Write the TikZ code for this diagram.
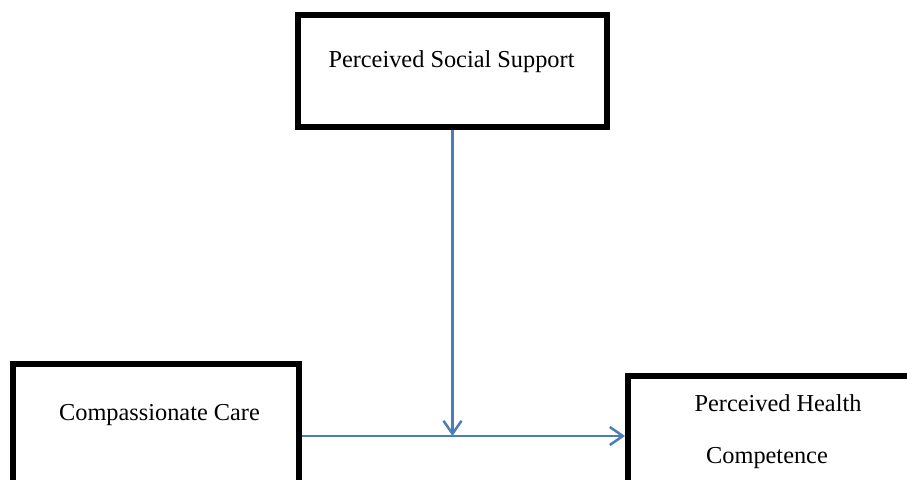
\documentclass[tikz,border=0pt]{standalone}
\usepackage{fontspec}
\setmainfont{Liberation Serif}
\usetikzlibrary{calc,arrows.meta}
\definecolor{lineblue}{RGB}{74,126,187}
\tikzstyle{cadre} = [rectangle, draw=black, line width=0.12cm, inner sep=0pt]
\tikzstyle{texte} = [anchor=base, inner sep=0pt, font=\fontsize{13.85}{16}\selectfont]
\tikzstyle{fleche} = [draw=lineblue, line width=0.05cm, -{Straight Barb[length=0.26cm,width=0.36cm,line width=0.05cm]}]

\begin{document}
\begin{tikzpicture}[x=0.02cm, y=-0.02cm]

        \useasboundingbox (0,0) rectangle (907,480);
        \clip (0,0) rectangle (907,480);

        %% boxes
        \node (PSS) [cadre, minimum width=6.18cm, minimum height=2.24cm] at (452.5,71) {};
        \node (CC) [cadre, minimum width=5.72cm, minimum height=2.88cm] at (156,436) {};
        \node (PHC) [cadre, minimum width=6.04cm, minimum height=2.4cm] at (779,436) {};

        %% texts
        \node (T1) [texte] at (451.5,68) {Perceived Social Support};
        \node (T2) [texte] at (159.5,420) {Compassionate Care};
        \node (T3) [texte] at (778,411) {Perceived Health};
        \node (T4) [texte] at (767,463) {Competence};

        %% arrows
        \coordinate (J) at (PSS.south |- CC.east);
        \draw[fleche] (CC.east) -- (PHC.west);
        \draw[fleche] (PSS.south) -- (J);

    \end{tikzpicture}
\end{document}
